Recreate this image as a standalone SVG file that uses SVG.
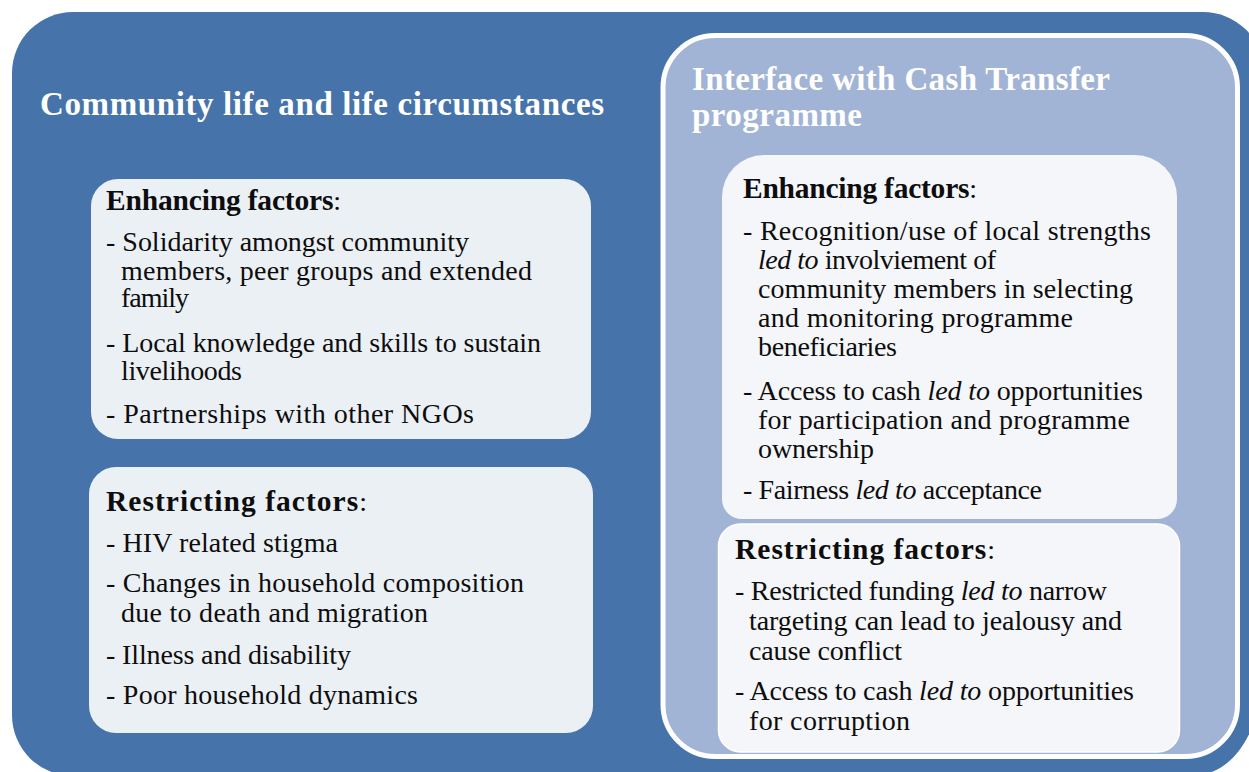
<svg xmlns="http://www.w3.org/2000/svg" width="1249" height="772" viewBox="0 0 1249 772">
  <style>
    .title { font-family: "Liberation Serif", "DejaVu Serif", serif; font-size: 33px; font-weight: bold; fill: #ffffff; }
    .body { font-family: "Liberation Serif", "DejaVu Serif", serif; font-size: 28px; fill: #0d0d0d; }
    .head { font-weight: bold; font-size: 29.5px; }
    .it { font-style: italic; }
    .boxL { fill: #EBF0F5; }
    .boxR { fill: #F4F6FA; }
  </style>
  <rect width="1249" height="772" fill="#ffffff"/>

  <!-- outer panel: community life -->
  <g id="community-panel">
    <path d="M12,73 A61,61 0 0 1 73,12 H1203 A61,61 0 0 1 1264,73 V660 C1264,720 1240,776 1190,776 H73 A61,61 0 0 1 12,715 Z" fill="#4674AA"/>
    <text class="title" x="40" y="115" textLength="564">Community life and life circumstances</text>
  </g>

  <g id="community-enhancing">
    <rect class="boxL" x="91" y="179" width="500" height="260" rx="27"/>
    <text class="body" x="106" y="210" textLength="235"><tspan class="head">Enhancing factors</tspan>:</text>
    <text class="body" x="106" y="251" textLength="363">- Solidarity amongst community</text>
    <text class="body" x="121" y="280" textLength="411">members, peer groups and extended</text>
    <text class="body" x="121" y="307" textLength="68">family</text>
    <text class="body" x="106" y="352" textLength="435">- Local knowledge and skills to sustain</text>
    <text class="body" x="121" y="380" textLength="121">livelihoods</text>
    <text class="body" x="106" y="423" textLength="368">- Partnerships with other NGOs</text>
  </g>

  <g id="community-restricting">
    <rect class="boxL" x="89" y="467" width="504" height="266" rx="27"/>
    <text class="body" x="106" y="511" textLength="261"><tspan class="head">Restricting factors</tspan>:</text>
    <text class="body" x="106" y="552" textLength="232">- HIV related stigma</text>
    <text class="body" x="106" y="592" textLength="418">- Changes in household composition</text>
    <text class="body" x="121" y="622" textLength="307">due to death and migration</text>
    <text class="body" x="106" y="664" textLength="245">- Illness and disability</text>
    <text class="body" x="106" y="704" textLength="312">- Poor household dynamics</text>
  </g>

  <!-- inner panel: interface with the cash transfer programme -->
  <g id="interface-panel">
    <rect x="663" y="35.5" width="574.5" height="721" rx="52" fill="#A2B4D5" stroke="#ffffff" stroke-width="5"/>
    <text class="title" x="692" y="90" textLength="418">Interface with Cash Transfer</text>
    <text class="title" x="692" y="126" textLength="170">programme</text>
  </g>

  <g id="interface-enhancing">
    <path class="boxR" d="M722,197 A42,42 0 0 1 764,155 H1135 A42,42 0 0 1 1177,197 V499 A20,20 0 0 1 1157,519 H742 A20,20 0 0 1 722,499 Z"/>
    <text class="body" x="743" y="198" textLength="234"><tspan class="head">Enhancing factors</tspan>:</text>
    <text class="body" x="743" y="240" textLength="408">- Recognition/use of local strengths</text>
    <text class="body" x="758" y="269" textLength="238"><tspan class="it">led to</tspan> involviement of</text>
    <text class="body" x="758" y="298" textLength="375">community members in selecting</text>
    <text class="body" x="758" y="327" textLength="315">and monitoring programme</text>
    <text class="body" x="758" y="356" textLength="139">beneficiaries</text>
    <text class="body" x="743" y="400" textLength="400">- Access to cash <tspan class="it">led to</tspan> opportunities</text>
    <text class="body" x="758" y="429" textLength="372">for participation and programme</text>
    <text class="body" x="758" y="458" textLength="116">ownership</text>
    <text class="body" x="743" y="499" textLength="299">- Fairness <tspan class="it">led to</tspan> acceptance</text>
  </g>

  <g id="interface-restricting">
    <rect class="boxR" x="718.5" y="524" width="461" height="228" rx="22" stroke="#ffffff" stroke-width="1.5"/>
    <text class="body" x="735" y="559" textLength="260"><tspan class="head">Restricting factors</tspan>:</text>
    <text class="body" x="735" y="600" textLength="372">- Restricted funding <tspan class="it">led to</tspan> narrow</text>
    <text class="body" x="749" y="630" textLength="373">targeting can lead to jealousy and</text>
    <text class="body" x="749" y="660" textLength="153">cause conflict</text>
    <text class="body" x="735" y="700" textLength="399">- Access to cash <tspan class="it">led to</tspan> opportunities</text>
    <text class="body" x="749" y="730" textLength="161">for corruption</text>
  </g>
</svg>
